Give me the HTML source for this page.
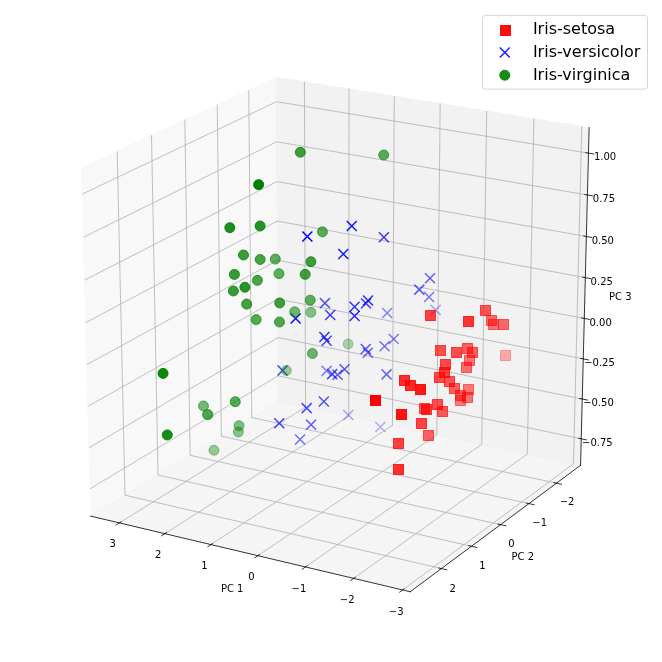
<!DOCTYPE html>
<html><head><meta charset="utf-8"><style>html,body{margin:0;padding:0;background:#fff;}svg{display:block;}</style></head><body>
<svg width="662" height="662" viewBox="0 0 662 662" version="1.1">
 <defs>
  <style type="text/css">*{stroke-linejoin: round; stroke-linecap: butt}</style>
 </defs>
 <g id="figure_1">
  <g id="patch_1">
   <path d="M 0 662 
L 662 662 
L 662 0 
L 0 0 
z
" style="fill: #ffffff"/>
  </g>
  <g id="patch_2">
   <path d="M 7.2 654.6 
L 655.2 654.6 
L 655.2 6.6 
L 7.2 6.6 
z
" style="fill: #ffffff"/>
  </g>
  <g id="pane3d_1">
   <g id="patch_3">
    <path d="M 278.394342 401.311174 
L 90.724351 516.131559 
L 81.515928 167.745645 
L 276.303589 77.177999 
" style="fill: #f2f2f2; opacity: 0.5; stroke: #f2f2f2; stroke-linejoin: miter"/>
   </g>
  </g>
  <g id="pane3d_2">
   <g id="patch_4">
    <path d="M 580.567625 465.309572 
L 278.394342 401.311174 
L 276.303589 77.177999 
L 589.13903 127.594009 
" style="fill: #e6e6e6; opacity: 0.5; stroke: #e6e6e6; stroke-linejoin: miter"/>
   </g>
  </g>
  <g id="pane3d_3">
   <g id="patch_5">
    <path d="M 580.567625 465.309572 
L 278.394342 401.311174 
L 90.724351 516.131559 
L 410.175387 591.744317 
" style="fill: #ececec; opacity: 0.5; stroke: #ececec; stroke-linejoin: miter"/>
   </g>
  </g>
  <g id="grid3d_1">
   <g id="Line3DCollection_1">
    <path d="M 402.649939 589.963074 
L 573.477045 463.807832 
L 581.786737 126.409126 
" style="fill: none; stroke: #b0b0b0; stroke-width: 0.8"/>
    <path d="M 353.658674 578.367041 
L 527.284065 454.024449 
L 533.90235 118.692162 
" style="fill: none; stroke: #b0b0b0; stroke-width: 0.8"/>
    <path d="M 305.39828 566.944002 
L 481.72464 444.37525 
L 486.697755 111.084753 
" style="fill: none; stroke: #b0b0b0; stroke-width: 0.8"/>
    <path d="M 257.852522 555.690116 
L 436.785825 434.857492 
L 440.158578 103.584581 
" style="fill: none; stroke: #b0b0b0; stroke-width: 0.8"/>
    <path d="M 211.005645 544.601651 
L 392.455025 425.468508 
L 394.270848 96.189395 
" style="fill: none; stroke: #b0b0b0; stroke-width: 0.8"/>
    <path d="M 164.842351 533.674987 
L 348.719982 416.205702 
L 349.02098 88.897006 
" style="fill: none; stroke: #b0b0b0; stroke-width: 0.8"/>
    <path d="M 119.347787 522.906609 
L 305.568768 407.066547 
L 304.395767 81.705285 
" style="fill: none; stroke: #b0b0b0; stroke-width: 0.8"/>
   </g>
  </g>
  <g id="grid3d_2">
   <g id="Line3DCollection_2">
    <path d="M 248.752988 89.987809 
L 251.78468 417.591516 
L 556.490881 483.175039 
" style="fill: none; stroke: #b0b0b0; stroke-width: 0.8"/>
    <path d="M 217.244811 104.637718 
L 221.379224 436.194203 
L 528.946133 503.613841 
" style="fill: none; stroke: #b0b0b0; stroke-width: 0.8"/>
    <path d="M 184.838922 119.705023 
L 190.137064 455.308804 
L 500.606086 524.642772 
" style="fill: none; stroke: #b0b0b0; stroke-width: 0.8"/>
    <path d="M 151.496401 135.20782 
L 158.023179 474.956743 
L 471.43579 546.287766 
" style="fill: none; stroke: #b0b0b0; stroke-width: 0.8"/>
    <path d="M 117.176045 151.165268 
L 125.000569 495.160659 
L 441.39822 568.576296 
" style="fill: none; stroke: #b0b0b0; stroke-width: 0.8"/>
   </g>
  </g>
  <g id="grid3d_3">
   <g id="Line3DCollection_3">
    <path d="M 581.24071 438.78987 
L 278.229919 375.820357 
L 90.002094 488.806131 
" style="fill: none; stroke: #b0b0b0; stroke-width: 0.8"/>
    <path d="M 582.250366 399.009158 
L 277.983355 337.59508 
L 88.918405 447.806521 
" style="fill: none; stroke: #b0b0b0; stroke-width: 0.8"/>
    <path d="M 583.268507 358.894121 
L 277.734813 299.063201 
L 87.825279 406.449851 
" style="fill: none; stroke: #b0b0b0; stroke-width: 0.8"/>
    <path d="M 584.295241 318.440527 
L 277.484269 260.221017 
L 86.722592 364.731438 
" style="fill: none; stroke: #b0b0b0; stroke-width: 0.8"/>
    <path d="M 585.330678 277.644072 
L 277.2317 221.064763 
L 85.610217 322.646514 
" style="fill: none; stroke: #b0b0b0; stroke-width: 0.8"/>
    <path d="M 586.374927 236.500377 
L 276.97708 181.590615 
L 84.488026 280.190229 
" style="fill: none; stroke: #b0b0b0; stroke-width: 0.8"/>
    <path d="M 587.428103 195.004992 
L 276.720385 141.794686 
L 83.355889 237.357644 
" style="fill: none; stroke: #b0b0b0; stroke-width: 0.8"/>
    <path d="M 588.490319 153.153387 
L 276.461589 101.673026 
L 82.213673 194.143735 
" style="fill: none; stroke: #b0b0b0; stroke-width: 0.8"/>
   </g>
  </g>
  <g id="axis3d_1">
   <g id="line2d_1">
    <path d="M 90.724351 516.131559 
L 410.175387 591.744317 
" style="fill: none; stroke: #000000; stroke-width: 0.8; stroke-linecap: square"/>
   </g>
   <g id="xtick_1">
    <g id="line2d_2">
     <path d="M 404.13718 588.864752 
L 399.669093 592.164419 
" style="fill: none; stroke: #000000; stroke-width: 0.8; stroke-linecap: square"/>
    </g>
    <g id="text_1">
     <text style="font-size: 10px; font-family: 'DejaVu Sans', 'Liberation Sans', sans-serif; text-anchor: middle" x="396.220" y="615.201" >−3</text>
    </g>
   </g>
   <g id="xtick_2">
    <g id="line2d_3">
     <path d="M 355.169356 577.285159 
L 350.630893 580.5354 
" style="fill: none; stroke: #000000; stroke-width: 0.8; stroke-linecap: square"/>
    </g>
    <g id="text_2">
     <text style="font-size: 10px; font-family: 'DejaVu Sans', 'Liberation Sans', sans-serif; text-anchor: middle" x="347.191" y="603.460" >−2</text>
    </g>
   </g>
   <g id="xtick_3">
    <g id="line2d_4">
     <path d="M 306.931541 565.878195 
L 302.325292 569.080111 
" style="fill: none; stroke: #000000; stroke-width: 0.8; stroke-linecap: square"/>
    </g>
    <g id="text_3">
     <text style="font-size: 10px; font-family: 'DejaVu Sans', 'Liberation Sans', sans-serif; text-anchor: middle" x="298.895" y="591.894" >−1</text>
    </g>
   </g>
   <g id="xtick_4">
    <g id="line2d_5">
     <path d="M 259.407532 554.640027 
L 254.735996 557.794688 
" style="fill: none; stroke: #000000; stroke-width: 0.8; stroke-linecap: square"/>
    </g>
    <g id="text_4">
     <text style="font-size: 10px; font-family: 'DejaVu Sans', 'Liberation Sans', sans-serif; text-anchor: middle" x="251.316" y="580.499" >0</text>
    </g>
   </g>
   <g id="xtick_5">
    <g id="line2d_6">
     <path d="M 212.5816 543.566935 
L 207.847188 546.67538 
" style="fill: none; stroke: #000000; stroke-width: 0.8; stroke-linecap: square"/>
    </g>
    <g id="text_5">
     <text style="font-size: 10px; font-family: 'DejaVu Sans', 'Liberation Sans', sans-serif; text-anchor: middle" x="204.437" y="569.272" >1</text>
    </g>
   </g>
   <g id="xtick_6">
    <g id="line2d_7">
     <path d="M 166.438478 532.65531 
L 161.643516 535.718547 
" style="fill: none; stroke: #000000; stroke-width: 0.8; stroke-linecap: square"/>
    </g>
    <g id="text_6">
     <text style="font-size: 10px; font-family: 'DejaVu Sans', 'Liberation Sans', sans-serif; text-anchor: middle" x="158.243" y="558.210" >2</text>
    </g>
   </g>
   <g id="xtick_7">
    <g id="line2d_8">
     <path d="M 120.963337 521.901645 
L 116.110071 524.920653 
" style="fill: none; stroke: #000000; stroke-width: 0.8; stroke-linecap: square"/>
    </g>
    <g id="text_7">
     <text style="font-size: 10px; font-family: 'DejaVu Sans', 'Liberation Sans', sans-serif; text-anchor: middle" x="112.720" y="547.307" >3</text>
    </g>
   </g>
   <g id="text_8">
    <text style="font-size: 10px; font-family: 'DejaVu Sans', 'Liberation Sans', sans-serif; text-anchor: middle" x="232.187" y="591.987" >PC 1</text>
   </g>
  </g>
  <g id="axis3d_2">
   <g id="line2d_9">
    <path d="M 580.567625 465.309572 
L 410.175387 591.744317 
" style="fill: none; stroke: #000000; stroke-width: 0.8; stroke-linecap: square"/>
   </g>
   <g id="xtick_8">
    <g id="line2d_10">
     <path d="M 553.93757 482.625476 
L 561.603374 484.275428 
" style="fill: none; stroke: #000000; stroke-width: 0.8; stroke-linecap: square"/>
    </g>
    <g id="text_9">
     <text style="font-size: 10px; font-family: 'DejaVu Sans', 'Liberation Sans', sans-serif; text-anchor: middle" x="567.118" y="505.351" >−2</text>
    </g>
   </g>
   <g id="xtick_9">
    <g id="line2d_11">
     <path d="M 526.367189 503.048528 
L 534.110034 504.745784 
" style="fill: none; stroke: #000000; stroke-width: 0.8; stroke-linecap: square"/>
    </g>
    <g id="text_10">
     <text style="font-size: 10px; font-family: 'DejaVu Sans', 'Liberation Sans', sans-serif; text-anchor: middle" x="539.712" y="525.993" >−1</text>
    </g>
   </g>
   <g id="xtick_10">
    <g id="line2d_12">
     <path d="M 498.001083 524.061023 
L 505.822253 525.807647 
" style="fill: none; stroke: #000000; stroke-width: 0.8; stroke-linecap: square"/>
    </g>
    <g id="text_11">
     <text style="font-size: 10px; font-family: 'DejaVu Sans', 'Liberation Sans', sans-serif; text-anchor: middle" x="511.515" y="547.230" >0</text>
    </g>
   </g>
   <g id="xtick_11">
    <g id="line2d_13">
     <path d="M 468.804296 545.688852 
L 476.705092 547.487031 
" style="fill: none; stroke: #000000; stroke-width: 0.8; stroke-linecap: square"/>
    </g>
    <g id="text_12">
     <text style="font-size: 10px; font-family: 'DejaVu Sans', 'Liberation Sans', sans-serif; text-anchor: middle" x="482.491" y="569.090" >1</text>
    </g>
   </g>
   <g id="xtick_12">
    <g id="line2d_14">
     <path d="M 438.7398 567.959447 
L 446.721534 569.811497 
" style="fill: none; stroke: #000000; stroke-width: 0.8; stroke-linecap: square"/>
    </g>
    <g id="text_13">
     <text style="font-size: 10px; font-family: 'DejaVu Sans', 'Liberation Sans', sans-serif; text-anchor: middle" x="452.603" y="591.601" >2</text>
    </g>
   </g>
   <g id="text_14">
    <text style="font-size: 10px; font-family: 'DejaVu Sans', 'Liberation Sans', sans-serif; text-anchor: middle" x="522.751" y="560.042" >PC 2</text>
   </g>
  </g>
  <g id="axis3d_3">
   <g id="line2d_15">
    <path d="M 580.567625 465.309572 
L 589.13903 127.594009 
" style="fill: none; stroke: #000000; stroke-width: 0.8; stroke-linecap: square"/>
   </g>
   <g id="xtick_13">
    <g id="line2d_16">
     <path d="M 578.702717 438.262443 
L 586.322472 439.845925 
" style="fill: none; stroke: #000000; stroke-width: 0.8; stroke-linecap: square"/>
    </g>
    <g id="text_15">
     <text style="font-size: 10px; font-family: 'DejaVu Sans', 'Liberation Sans', sans-serif; text-anchor: middle" x="597.379" y="445.745" >−0.75</text>
    </g>
   </g>
   <g id="xtick_14">
    <g id="line2d_17">
     <path d="M 579.701373 398.494662 
L 587.354178 400.039325 
" style="fill: none; stroke: #000000; stroke-width: 0.8; stroke-linecap: square"/>
    </g>
    <g id="text_16">
     <text style="font-size: 10px; font-family: 'DejaVu Sans', 'Liberation Sans', sans-serif; text-anchor: middle" x="598.455" y="406.005" >−0.50</text>
    </g>
   </g>
   <g id="xtick_15">
    <g id="line2d_18">
     <path d="M 580.708418 358.392794 
L 588.394562 359.897927 
" style="fill: none; stroke: #000000; stroke-width: 0.8; stroke-linecap: square"/>
    </g>
    <g id="text_17">
     <text style="font-size: 10px; font-family: 'DejaVu Sans', 'Liberation Sans', sans-serif; text-anchor: middle" x="599.540" y="365.931" >−0.25</text>
    </g>
   </g>
   <g id="xtick_16">
    <g id="line2d_19">
     <path d="M 581.723959 317.952609 
L 589.443733 319.417489 
" style="fill: none; stroke: #000000; stroke-width: 0.8; stroke-linecap: square"/>
    </g>
    <g id="text_18">
     <text style="font-size: 10px; font-family: 'DejaVu Sans', 'Liberation Sans', sans-serif; text-anchor: middle" x="600.634" y="325.519" >0.00</text>
    </g>
   </g>
   <g id="xtick_17">
    <g id="line2d_20">
     <path d="M 582.748104 277.169808 
L 590.501802 278.593697 
" style="fill: none; stroke: #000000; stroke-width: 0.8; stroke-linecap: square"/>
    </g>
    <g id="text_19">
     <text style="font-size: 10px; font-family: 'DejaVu Sans', 'Liberation Sans', sans-serif; text-anchor: middle" x="601.738" y="284.765" >0.25</text>
    </g>
   </g>
   <g id="xtick_18">
    <g id="line2d_21">
     <path d="M 583.780963 236.040019 
L 591.568885 237.422165 
" style="fill: none; stroke: #000000; stroke-width: 0.8; stroke-linecap: square"/>
    </g>
    <g id="text_20">
     <text style="font-size: 10px; font-family: 'DejaVu Sans', 'Liberation Sans', sans-serif; text-anchor: middle" x="602.851" y="243.665" >0.50</text>
    </g>
   </g>
   <g id="xtick_19">
    <g id="line2d_22">
     <path d="M 584.822647 194.558794 
L 592.645096 195.898429 
" style="fill: none; stroke: #000000; stroke-width: 0.8; stroke-linecap: square"/>
    </g>
    <g id="text_21">
     <text style="font-size: 10px; font-family: 'DejaVu Sans', 'Liberation Sans', sans-serif; text-anchor: middle" x="603.973" y="202.213" >0.75</text>
    </g>
   </g>
   <g id="xtick_20">
    <g id="line2d_23">
     <path d="M 585.87327 152.721611 
L 593.730553 154.017952 
" style="fill: none; stroke: #000000; stroke-width: 0.8; stroke-linecap: square"/>
    </g>
    <g id="text_22">
     <text style="font-size: 10px; font-family: 'DejaVu Sans', 'Liberation Sans', sans-serif; text-anchor: middle" x="605.105" y="160.407" >1.00</text>
    </g>
   </g>
   <g id="text_23">
    <text style="font-size: 10px; font-family: 'DejaVu Sans', 'Liberation Sans', sans-serif; text-anchor: middle" x="620.317" y="299.909" >PC 3</text>
   </g>
  </g>
  <g id="axes_1">
   <g id="Path3DCollection_1">
    <path d="M 375.357179 432.07388 
L 385.357179 422.07388 
M 375.357179 422.07388 
L 385.357179 432.07388 
" clip-path="url(#p577230654b)" style="fill: #0000ff; fill-opacity: 0.3; stroke: #0000ff; stroke-opacity: 0.3; stroke-width: 1.5"/>
    <path d="M 343.301746 420.006886 
L 353.301746 410.006886 
M 343.301746 410.006886 
L 353.301746 420.006886 
" clip-path="url(#p577230654b)" style="fill: #0000ff; fill-opacity: 0.341752; stroke: #0000ff; stroke-opacity: 0.341752; stroke-width: 1.5"/>
    <path d="M 430.691351 314.934995 
L 440.691351 304.934995 
M 430.691351 304.934995 
L 440.691351 314.934995 
" clip-path="url(#p577230654b)" style="fill: #0000ff; fill-opacity: 0.353983; stroke: #0000ff; stroke-opacity: 0.353983; stroke-width: 1.5"/>
    <path d="M 321.604627 375.848724 
L 331.604627 365.848724 
M 321.604627 365.848724 
L 331.604627 375.848724 
" clip-path="url(#p577230654b)" style="fill: #0000ff; fill-opacity: 0.47393; stroke: #0000ff; stroke-opacity: 0.47393; stroke-width: 1.5"/>
    <path d="M 382.138927 317.92748 
L 392.138927 307.92748 
M 382.138927 307.92748 
L 392.138927 317.92748 
" clip-path="url(#p577230654b)" style="fill: #0000ff; fill-opacity: 0.47603; stroke: #0000ff; stroke-opacity: 0.47603; stroke-width: 1.5"/>
    <path d="M 388.724749 344.042554 
L 398.724749 334.042554 
M 388.724749 334.042554 
L 398.724749 344.042554 
" clip-path="url(#p577230654b)" style="fill: #0000ff; fill-opacity: 0.509518; stroke: #0000ff; stroke-opacity: 0.509518; stroke-width: 1.5"/>
    <path d="M 424.041372 302.066816 
L 434.041372 292.066816 
M 424.041372 292.066816 
L 434.041372 302.066816 
" clip-path="url(#p577230654b)" style="fill: #0000ff; fill-opacity: 0.527633; stroke: #0000ff; stroke-opacity: 0.527633; stroke-width: 1.5"/>
    <path d="M 379.625817 351.305828 
L 389.625817 341.305828 
M 379.625817 341.305828 
L 389.625817 351.305828 
" clip-path="url(#p577230654b)" style="fill: #0000ff; fill-opacity: 0.549279; stroke: #0000ff; stroke-opacity: 0.549279; stroke-width: 1.5"/>
    <path d="M 295.088296 444.432333 
L 305.088296 434.432333 
M 295.088296 434.432333 
L 305.088296 444.432333 
" clip-path="url(#p577230654b)" style="fill: #0000ff; fill-opacity: 0.553044; stroke: #0000ff; stroke-opacity: 0.553044; stroke-width: 1.5"/>
    <path d="M 381.561326 379.400435 
L 391.561326 369.400435 
M 381.561326 369.400435 
L 391.561326 379.400435 
" clip-path="url(#p577230654b)" style="fill: #0000ff; fill-opacity: 0.583409; stroke: #0000ff; stroke-opacity: 0.583409; stroke-width: 1.5"/>
    <path d="M 362.769629 357.805328 
L 372.769629 347.805328 
M 362.769629 347.805328 
L 372.769629 357.805328 
" clip-path="url(#p577230654b)" style="fill: #0000ff; fill-opacity: 0.586448; stroke: #0000ff; stroke-opacity: 0.586448; stroke-width: 1.5"/>
    <path d="M 425.012233 283.183846 
L 435.012233 273.183846 
M 425.012233 273.183846 
L 435.012233 283.183846 
" clip-path="url(#p577230654b)" style="fill: #0000ff; fill-opacity: 0.601946; stroke: #0000ff; stroke-opacity: 0.601946; stroke-width: 1.5"/>
    <path d="M 306.091066 429.698267 
L 316.091066 419.698267 
M 306.091066 419.698267 
L 316.091066 429.698267 
" clip-path="url(#p577230654b)" style="fill: #0000ff; fill-opacity: 0.633602; stroke: #0000ff; stroke-opacity: 0.633602; stroke-width: 1.5"/>
    <path d="M 332.531133 379.716599 
L 342.531133 369.716599 
M 332.531133 369.716599 
L 342.531133 379.716599 
" clip-path="url(#p577230654b)" style="fill: #0000ff; fill-opacity: 0.642649; stroke: #0000ff; stroke-opacity: 0.642649; stroke-width: 1.5"/>
    <path d="M 414.304274 294.638875 
L 424.304274 284.638875 
M 414.304274 284.638875 
L 424.304274 294.638875 
" clip-path="url(#p577230654b)" style="fill: #0000ff; fill-opacity: 0.645663; stroke: #0000ff; stroke-opacity: 0.645663; stroke-width: 1.5"/>
    <path d="M 360.746002 354.09291 
L 370.746002 344.09291 
M 360.746002 344.09291 
L 370.746002 354.09291 
" clip-path="url(#p577230654b)" style="fill: #0000ff; fill-opacity: 0.646358; stroke: #0000ff; stroke-opacity: 0.646358; stroke-width: 1.5"/>
    <path d="M 319.946478 308.120451 
L 329.946478 298.120451 
M 319.946478 298.120451 
L 329.946478 308.120451 
" clip-path="url(#p577230654b)" style="fill: #0000ff; fill-opacity: 0.649357; stroke: #0000ff; stroke-opacity: 0.649357; stroke-width: 1.5"/>
    <path d="M 339.553961 374.304596 
L 349.553961 364.304596 
M 339.553961 364.304596 
L 349.553961 374.304596 
" clip-path="url(#p577230654b)" style="fill: #0000ff; fill-opacity: 0.66739; stroke: #0000ff; stroke-opacity: 0.66739; stroke-width: 1.5"/>
    <path d="M 318.873023 406.431544 
L 328.873023 396.431544 
M 318.873023 396.431544 
L 328.873023 406.431544 
" clip-path="url(#p577230654b)" style="fill: #0000ff; fill-opacity: 0.671525; stroke: #0000ff; stroke-opacity: 0.671525; stroke-width: 1.5"/>
    <path d="M 360.995885 308.348537 
L 370.995885 298.348537 
M 360.995885 298.348537 
L 370.995885 308.348537 
" clip-path="url(#p577230654b)" style="fill: #0000ff; fill-opacity: 0.688724; stroke: #0000ff; stroke-opacity: 0.688724; stroke-width: 1.5"/>
    <path d="M 327.164796 379.15112 
L 337.164796 369.15112 
M 327.164796 369.15112 
L 337.164796 379.15112 
" clip-path="url(#p577230654b)" style="fill: #0000ff; fill-opacity: 0.704916; stroke: #0000ff; stroke-opacity: 0.704916; stroke-width: 1.5"/>
    <path d="M 301.699865 413.139995 
L 311.699865 403.139995 
M 301.699865 403.139995 
L 311.699865 413.139995 
" clip-path="url(#p577230654b)" style="fill: #0000ff; fill-opacity: 0.70936; stroke: #0000ff; stroke-opacity: 0.70936; stroke-width: 1.5"/>
    <path d="M 274.254656 428.323664 
L 284.254656 418.323664 
M 274.254656 418.323664 
L 284.254656 428.323664 
" clip-path="url(#p577230654b)" style="fill: #0000ff; fill-opacity: 0.724246; stroke: #0000ff; stroke-opacity: 0.724246; stroke-width: 1.5"/>
    <path d="M 277.545881 375.557454 
L 287.545881 365.557454 
M 277.545881 365.557454 
L 287.545881 375.557454 
" clip-path="url(#p577230654b)" style="fill: #0000ff; fill-opacity: 0.724762; stroke: #0000ff; stroke-opacity: 0.724762; stroke-width: 1.5"/>
    <path d="M 321.626478 345.750209 
L 331.626478 335.750209 
M 321.626478 335.750209 
L 331.626478 345.750209 
" clip-path="url(#p577230654b)" style="fill: #0000ff; fill-opacity: 0.729239; stroke: #0000ff; stroke-opacity: 0.729239; stroke-width: 1.5"/>
    <path d="M 325.217641 319.98671 
L 335.217641 309.98671 
M 325.217641 309.98671 
L 335.217641 319.98671 
" clip-path="url(#p577230654b)" style="fill: #0000ff; fill-opacity: 0.763198; stroke: #0000ff; stroke-opacity: 0.763198; stroke-width: 1.5"/>
    <path d="M 378.871083 242.282101 
L 388.871083 232.282101 
M 378.871083 232.282101 
L 388.871083 242.282101 
" clip-path="url(#p577230654b)" style="fill: #0000ff; fill-opacity: 0.774599; stroke: #0000ff; stroke-opacity: 0.774599; stroke-width: 1.5"/>
    <path d="M 319.400513 341.945951 
L 329.400513 331.945951 
M 319.400513 331.945951 
L 329.400513 341.945951 
" clip-path="url(#p577230654b)" style="fill: #0000ff; fill-opacity: 0.790403; stroke: #0000ff; stroke-opacity: 0.790403; stroke-width: 1.5"/>
    <path d="M 349.60199 311.664986 
L 359.60199 301.664986 
M 349.60199 301.664986 
L 359.60199 311.664986 
" clip-path="url(#p577230654b)" style="fill: #0000ff; fill-opacity: 0.790703; stroke: #0000ff; stroke-opacity: 0.790703; stroke-width: 1.5"/>
    <path d="M 363.026504 305.583429 
L 373.026504 295.583429 
M 363.026504 295.583429 
L 373.026504 305.583429 
" clip-path="url(#p577230654b)" style="fill: #0000ff; fill-opacity: 0.817293; stroke: #0000ff; stroke-opacity: 0.817293; stroke-width: 1.5"/>
    <path d="M 349.572854 321.094613 
L 359.572854 311.094613 
M 349.572854 311.094613 
L 359.572854 321.094613 
" clip-path="url(#p577230654b)" style="fill: #0000ff; fill-opacity: 0.836656; stroke: #0000ff; stroke-opacity: 0.836656; stroke-width: 1.5"/>
    <path d="M 338.289332 259.01706 
L 348.289332 249.01706 
M 338.289332 249.01706 
L 348.289332 259.01706 
" clip-path="url(#p577230654b)" style="fill: #0000ff; fill-opacity: 0.891479; stroke: #0000ff; stroke-opacity: 0.891479; stroke-width: 1.5"/>
    <path d="M 346.760946 230.940027 
L 356.760946 220.940027 
M 346.760946 220.940027 
L 356.760946 230.940027 
" clip-path="url(#p577230654b)" style="fill: #0000ff; fill-opacity: 0.925942; stroke: #0000ff; stroke-opacity: 0.925942; stroke-width: 1.5"/>
    <path d="M 290.609556 323.431561 
L 300.609556 313.431561 
M 290.609556 313.431561 
L 300.609556 323.431561 
" clip-path="url(#p577230654b)" style="fill: #0000ff; fill-opacity: 0.96464; stroke: #0000ff; stroke-opacity: 0.96464; stroke-width: 1.5"/>
    <path d="M 302.365239 241.549338 
L 312.365239 231.549338 
M 302.365239 231.549338 
L 312.365239 241.549338 
" clip-path="url(#p577230654b)" style="fill: #0000ff; stroke: #0000ff; stroke-width: 1.5"/>
   </g>
   <g id="Path3DCollection_2">
    
    <g clip-path="url(#p577230654b)">
     <circle cx="348.16" cy="344.06" r="5" style="fill: #008000; fill-opacity: 0.3; stroke: #008000; stroke-opacity: 0.3"/>
    </g>
    <g clip-path="url(#p577230654b)">
     <circle cx="208.34" cy="414.51" r="5" style="fill: #008000; fill-opacity: 0.327865; stroke: #008000; stroke-opacity: 0.327865"/>
    </g>
    <g clip-path="url(#p577230654b)">
     <circle cx="286.3" cy="370.44" r="5" style="fill: #008000; fill-opacity: 0.376025; stroke: #008000; stroke-opacity: 0.376025"/>
    </g>
    <g clip-path="url(#p577230654b)">
     <circle cx="213.96" cy="450.29" r="5" style="fill: #008000; fill-opacity: 0.396199; stroke: #008000; stroke-opacity: 0.396199"/>
    </g>
    <g clip-path="url(#p577230654b)">
     <circle cx="238.4" cy="432.05" r="5" style="fill: #008000; fill-opacity: 0.4358; stroke: #008000; stroke-opacity: 0.4358"/>
    </g>
    <g clip-path="url(#p577230654b)">
     <circle cx="310.85" cy="312.34" r="5" style="fill: #008000; fill-opacity: 0.456785; stroke: #008000; stroke-opacity: 0.456785"/>
    </g>
    <g clip-path="url(#p577230654b)">
     <circle cx="239.01" cy="425.67" r="5" style="fill: #008000; fill-opacity: 0.48701; stroke: #008000; stroke-opacity: 0.48701"/>
    </g>
    <g clip-path="url(#p577230654b)">
     <circle cx="207.38" cy="414.65" r="5" style="fill: #008000; fill-opacity: 0.527137; stroke: #008000; stroke-opacity: 0.527137"/>
    </g>
    <g clip-path="url(#p577230654b)">
     <circle cx="294.67" cy="311.85" r="5" style="fill: #008000; fill-opacity: 0.541526; stroke: #008000; stroke-opacity: 0.541526"/>
    </g>
    <g clip-path="url(#p577230654b)">
     <circle cx="203.47" cy="405.92" r="5" style="fill: #008000; fill-opacity: 0.543782; stroke: #008000; stroke-opacity: 0.543782"/>
    </g>
    <g clip-path="url(#p577230654b)">
     <circle cx="312.43" cy="353.51" r="5" style="fill: #008000; fill-opacity: 0.562333; stroke: #008000; stroke-opacity: 0.562333"/>
    </g>
    <g clip-path="url(#p577230654b)">
     <circle cx="278.97" cy="273.69" r="5" style="fill: #008000; fill-opacity: 0.614369; stroke: #008000; stroke-opacity: 0.614369"/>
    </g>
    <g clip-path="url(#p577230654b)">
     <circle cx="310.24" cy="300.14" r="5" style="fill: #008000; fill-opacity: 0.618405; stroke: #008000; stroke-opacity: 0.618405"/>
    </g>
    <g clip-path="url(#p577230654b)">
     <circle cx="275.31" cy="259.08" r="5" style="fill: #008000; fill-opacity: 0.626755; stroke: #008000; stroke-opacity: 0.626755"/>
    </g>
    <g clip-path="url(#p577230654b)">
     <circle cx="322.4" cy="231.82" r="5" style="fill: #008000; fill-opacity: 0.633576; stroke: #008000; stroke-opacity: 0.633576"/>
    </g>
    <g clip-path="url(#p577230654b)">
     <circle cx="383.68" cy="155.04" r="5" style="fill: #008000; fill-opacity: 0.646276; stroke: #008000; stroke-opacity: 0.646276"/>
    </g>
    <g clip-path="url(#p577230654b)">
     <circle cx="256.16" cy="319.6" r="5" style="fill: #008000; fill-opacity: 0.661716; stroke: #008000; stroke-opacity: 0.661716"/>
    </g>
    <g clip-path="url(#p577230654b)">
     <circle cx="235.25" cy="401.74" r="5" style="fill: #008000; fill-opacity: 0.663313; stroke: #008000; stroke-opacity: 0.663313"/>
    </g>
    <g clip-path="url(#p577230654b)">
     <circle cx="279.5" cy="322.03" r="5" style="fill: #008000; fill-opacity: 0.669473; stroke: #008000; stroke-opacity: 0.669473"/>
    </g>
    <g clip-path="url(#p577230654b)">
     <circle cx="257.4" cy="280.35" r="5" style="fill: #008000; fill-opacity: 0.706127; stroke: #008000; stroke-opacity: 0.706127"/>
    </g>
    <g clip-path="url(#p577230654b)">
     <circle cx="260.17" cy="259.5" r="5" style="fill: #008000; fill-opacity: 0.715312; stroke: #008000; stroke-opacity: 0.715312"/>
    </g>
    <g clip-path="url(#p577230654b)">
     <circle cx="246.66" cy="304.1" r="5" style="fill: #008000; fill-opacity: 0.730826; stroke: #008000; stroke-opacity: 0.730826"/>
    </g>
    <g clip-path="url(#p577230654b)">
     <circle cx="279.66" cy="302.96" r="5" style="fill: #008000; fill-opacity: 0.738149; stroke: #008000; stroke-opacity: 0.738149"/>
    </g>
    <g clip-path="url(#p577230654b)">
     <circle cx="305.2" cy="274.35" r="5" style="fill: #008000; fill-opacity: 0.738679; stroke: #008000; stroke-opacity: 0.738679"/>
    </g>
    <g clip-path="url(#p577230654b)">
     <circle cx="300.34" cy="152.27" r="5" style="fill: #008000; fill-opacity: 0.749634; stroke: #008000; stroke-opacity: 0.749634"/>
    </g>
    <g clip-path="url(#p577230654b)">
     <circle cx="310.91" cy="261.7" r="5" style="fill: #008000; fill-opacity: 0.75538; stroke: #008000; stroke-opacity: 0.75538"/>
    </g>
    <g clip-path="url(#p577230654b)">
     <circle cx="243.49" cy="255" r="5" style="fill: #008000; fill-opacity: 0.766796; stroke: #008000; stroke-opacity: 0.766796"/>
    </g>
    <g clip-path="url(#p577230654b)">
     <circle cx="233.36" cy="290.98" r="5" style="fill: #008000; fill-opacity: 0.776123; stroke: #008000; stroke-opacity: 0.776123"/>
    </g>
    <g clip-path="url(#p577230654b)">
     <circle cx="234.39" cy="274.41" r="5" style="fill: #008000; fill-opacity: 0.788573; stroke: #008000; stroke-opacity: 0.788573"/>
    </g>
    <g clip-path="url(#p577230654b)">
     <circle cx="244.91" cy="287.24" r="5" style="fill: #008000; fill-opacity: 0.835813; stroke: #008000; stroke-opacity: 0.835813"/>
    </g>
    <g clip-path="url(#p577230654b)">
     <circle cx="260.09" cy="226.01" r="5" style="fill: #008000; fill-opacity: 0.859115; stroke: #008000; stroke-opacity: 0.859115"/>
    </g>
    <g clip-path="url(#p577230654b)">
     <circle cx="229.82" cy="227.65" r="5" style="fill: #008000; fill-opacity: 0.887306; stroke: #008000; stroke-opacity: 0.887306"/>
    </g>
    <g clip-path="url(#p577230654b)">
     <circle cx="167.29" cy="434.97" r="5" style="fill: #008000; fill-opacity: 0.900665; stroke: #008000; stroke-opacity: 0.900665"/>
    </g>
    <g clip-path="url(#p577230654b)">
     <circle cx="163.05" cy="373.38" r="5" style="fill: #008000; fill-opacity: 0.95364; stroke: #008000; stroke-opacity: 0.95364"/>
    </g>
    <g clip-path="url(#p577230654b)">
     <circle cx="258.64" cy="184.66" r="5" style="fill: #008000; stroke: #008000"/>
    </g>
   </g>
   <g id="Path3DCollection_3">
    
    <g clip-path="url(#p577230654b)">
     <rect x="500.5" y="350.5" width="10" height="10" style="fill: #ff0000; fill-opacity: 0.3; stroke: #ff0000; stroke-opacity: 0.3;stroke-linejoin: miter"/>
    </g>
    <g clip-path="url(#p577230654b)">
     <rect x="455.5" y="395.5" width="10" height="10" style="fill: #ff0000; fill-opacity: 0.496234; stroke: #ff0000; stroke-opacity: 0.496234;stroke-linejoin: miter"/>
    </g>
    <g clip-path="url(#p577230654b)">
     <rect x="463.5" y="384.5" width="10" height="10" style="fill: #ff0000; fill-opacity: 0.509073; stroke: #ff0000; stroke-opacity: 0.509073;stroke-linejoin: miter"/>
    </g>
    <g clip-path="url(#p577230654b)">
     <rect x="488.5" y="319.5" width="10" height="10" style="fill: #ff0000; fill-opacity: 0.524985; stroke: #ff0000; stroke-opacity: 0.524985;stroke-linejoin: miter"/>
    </g>
    <g clip-path="url(#p577230654b)">
     <rect x="464.5" y="355.5" width="10" height="10" style="fill: #ff0000; fill-opacity: 0.528892; stroke: #ff0000; stroke-opacity: 0.528892;stroke-linejoin: miter"/>
    </g>
    <g clip-path="url(#p577230654b)">
     <rect x="462.5" y="392.5" width="10" height="10" style="fill: #ff0000; fill-opacity: 0.53738; stroke: #ff0000; stroke-opacity: 0.53738;stroke-linejoin: miter"/>
    </g>
    <g clip-path="url(#p577230654b)">
     <rect x="461.5" y="362.5" width="10" height="10" style="fill: #ff0000; fill-opacity: 0.556294; stroke: #ff0000; stroke-opacity: 0.556294;stroke-linejoin: miter"/>
    </g>
    <g clip-path="url(#p577230654b)">
     <rect x="486.5" y="315.5" width="10" height="10" style="fill: #ff0000; fill-opacity: 0.564519; stroke: #ff0000; stroke-opacity: 0.564519;stroke-linejoin: miter"/>
    </g>
    <g clip-path="url(#p577230654b)">
     <rect x="498.5" y="319.5" width="10" height="10" style="fill: #ff0000; fill-opacity: 0.568468; stroke: #ff0000; stroke-opacity: 0.568468;stroke-linejoin: miter"/>
    </g>
    <g clip-path="url(#p577230654b)">
     <rect x="455.5" y="390.5" width="10" height="10" style="fill: #ff0000; fill-opacity: 0.577213; stroke: #ff0000; stroke-opacity: 0.577213;stroke-linejoin: miter"/>
    </g>
    <g clip-path="url(#p577230654b)">
     <rect x="423.5" y="430.5" width="10" height="10" style="fill: #ff0000; fill-opacity: 0.605762; stroke: #ff0000; stroke-opacity: 0.605762;stroke-linejoin: miter"/>
    </g>
    <g clip-path="url(#p577230654b)">
     <rect x="462.5" y="343.5" width="10" height="10" style="fill: #ff0000; fill-opacity: 0.606109; stroke: #ff0000; stroke-opacity: 0.606109;stroke-linejoin: miter"/>
    </g>
    <g clip-path="url(#p577230654b)">
     <rect x="467.5" y="347.5" width="10" height="10" style="fill: #ff0000; fill-opacity: 0.60924; stroke: #ff0000; stroke-opacity: 0.60924;stroke-linejoin: miter"/>
    </g>
    <g clip-path="url(#p577230654b)">
     <rect x="449.5" y="383.5" width="10" height="10" style="fill: #ff0000; fill-opacity: 0.614078; stroke: #ff0000; stroke-opacity: 0.614078;stroke-linejoin: miter"/>
    </g>
    <g clip-path="url(#p577230654b)">
     <rect x="419.5" y="403.5" width="10" height="10" style="fill: #ff0000; fill-opacity: 0.626207; stroke: #ff0000; stroke-opacity: 0.626207;stroke-linejoin: miter"/>
    </g>
    <g clip-path="url(#p577230654b)">
     <rect x="437.5" y="406.5" width="10" height="10" style="fill: #ff0000; fill-opacity: 0.631071; stroke: #ff0000; stroke-opacity: 0.631071;stroke-linejoin: miter"/>
    </g>
    <g clip-path="url(#p577230654b)">
     <rect x="480.5" y="305.5" width="10" height="10" style="fill: #ff0000; fill-opacity: 0.64255; stroke: #ff0000; stroke-opacity: 0.64255;stroke-linejoin: miter"/>
    </g>
    <g clip-path="url(#p577230654b)">
     <rect x="444.5" y="376.5" width="10" height="10" style="fill: #ff0000; fill-opacity: 0.652304; stroke: #ff0000; stroke-opacity: 0.652304;stroke-linejoin: miter"/>
    </g>
    <g clip-path="url(#p577230654b)">
     <rect x="432.5" y="399.5" width="10" height="10" style="fill: #ff0000; fill-opacity: 0.669442; stroke: #ff0000; stroke-opacity: 0.669442;stroke-linejoin: miter"/>
    </g>
    <g clip-path="url(#p577230654b)">
     <rect x="435.5" y="345.5" width="10" height="10" style="fill: #ff0000; fill-opacity: 0.669787; stroke: #ff0000; stroke-opacity: 0.669787;stroke-linejoin: miter"/>
    </g>
    <g clip-path="url(#p577230654b)">
     <rect x="451.5" y="347.5" width="10" height="10" style="fill: #ff0000; fill-opacity: 0.673638; stroke: #ff0000; stroke-opacity: 0.673638;stroke-linejoin: miter"/>
    </g>
    <g clip-path="url(#p577230654b)">
     <rect x="434.5" y="372.5" width="10" height="10" style="fill: #ff0000; fill-opacity: 0.69105; stroke: #ff0000; stroke-opacity: 0.69105;stroke-linejoin: miter"/>
    </g>
    <g clip-path="url(#p577230654b)">
     <rect x="440.5" y="359.5" width="10" height="10" style="fill: #ff0000; fill-opacity: 0.703396; stroke: #ff0000; stroke-opacity: 0.703396;stroke-linejoin: miter"/>
    </g>
    <g clip-path="url(#p577230654b)">
     <rect x="416.5" y="418.5" width="10" height="10" style="fill: #ff0000; fill-opacity: 0.726566; stroke: #ff0000; stroke-opacity: 0.726566;stroke-linejoin: miter"/>
    </g>
    <g clip-path="url(#p577230654b)">
     <rect x="425.5" y="310.5" width="10" height="10" style="fill: #ff0000; fill-opacity: 0.728337; stroke: #ff0000; stroke-opacity: 0.728337;stroke-linejoin: miter"/>
    </g>
    <g clip-path="url(#p577230654b)">
     <rect x="439.5" y="367.5" width="10" height="10" style="fill: #ff0000; fill-opacity: 0.732962; stroke: #ff0000; stroke-opacity: 0.732962;stroke-linejoin: miter"/>
    </g>
    <g clip-path="url(#p577230654b)">
     <rect x="421.5" y="404.5" width="10" height="10" style="fill: #ff0000; fill-opacity: 0.737934; stroke: #ff0000; stroke-opacity: 0.737934;stroke-linejoin: miter"/>
    </g>
    <g clip-path="url(#p577230654b)">
     <rect x="393.5" y="438.5" width="10" height="10" style="fill: #ff0000; fill-opacity: 0.739882; stroke: #ff0000; stroke-opacity: 0.739882;stroke-linejoin: miter"/>
    </g>
    <g clip-path="url(#p577230654b)">
     <rect x="463.5" y="316.5" width="10" height="10" style="fill: #ff0000; fill-opacity: 0.78301; stroke: #ff0000; stroke-opacity: 0.78301;stroke-linejoin: miter"/>
    </g>
    <g clip-path="url(#p577230654b)">
     <rect x="393.5" y="464.5" width="10" height="10" style="fill: #ff0000; fill-opacity: 0.805335; stroke: #ff0000; stroke-opacity: 0.805335;stroke-linejoin: miter"/>
    </g>
    <g clip-path="url(#p577230654b)">
     <rect x="399.5" y="375.5" width="10" height="10" style="fill: #ff0000; fill-opacity: 0.824473; stroke: #ff0000; stroke-opacity: 0.824473;stroke-linejoin: miter"/>
    </g>
    <g clip-path="url(#p577230654b)">
     <rect x="405.5" y="380.5" width="10" height="10" style="fill: #ff0000; fill-opacity: 0.828855; stroke: #ff0000; stroke-opacity: 0.828855;stroke-linejoin: miter"/>
    </g>
    <g clip-path="url(#p577230654b)">
     <rect x="415.5" y="384.5" width="10" height="10" style="fill: #ff0000; fill-opacity: 0.903651; stroke: #ff0000; stroke-opacity: 0.903651;stroke-linejoin: miter"/>
    </g>
    <g clip-path="url(#p577230654b)">
     <rect x="396.5" y="409.5" width="10" height="10" style="fill: #ff0000; fill-opacity: 0.920846; stroke: #ff0000; stroke-opacity: 0.920846;stroke-linejoin: miter"/>
    </g>
    <g clip-path="url(#p577230654b)">
     <rect x="370.5" y="395.5" width="10" height="10" style="fill: #ff0000; stroke: #ff0000;stroke-linejoin: miter"/>
    </g>
   </g>
   <g id="legend_1">
    <g id="patch_6">
     <path d="M 485.5975 89.147 
L 644.3 89.147 
Q 647.5 89.147 647.5 85.947 
L 647.5 18.5 
Q 647.5 15.3 644.3 15.3 
L 485.5975 15.3 
Q 482.3975 15.3 482.3975 18.5 
L 482.3975 85.947 
Q 482.3975 89.147 485.5975 89.147 
z
" style="fill: #ffffff; opacity: 0.8; stroke: #cccccc; stroke-linejoin: miter"/>
    </g>
    <g id="PathCollection_1">
     
     <g>
      <rect x="500.5" y="25.5" width="10" height="10" style="stroke: #ff0000; stroke-opacity: 0.95;fill: #ff0000; fill-opacity: 0.95; stroke: #ff0000; stroke-opacity: 0.95;stroke-linejoin: miter"/>
     </g>
    </g>
    <g id="text_24">
     <text style="font-size: 16px; font-family: 'DejaVu Sans', 'Liberation Sans', sans-serif; text-anchor: start" x="532.897" y="34.258" >Iris-setosa</text>
    </g>
    <g id="PathCollection_2">
     
     <g>
      <path d="M 499.8 57.44 L 509.8 47.44 M 499.8 47.44 L 509.8 57.44" style="stroke: #0000ff; stroke-opacity: 0.88; stroke-width: 1.5;fill: #0000ff; fill-opacity: 0.88; stroke: #0000ff; stroke-opacity: 0.88; stroke-width: 1.5"/>
     </g>
    </g>
    <g id="text_25">
     <text style="font-size: 16px; font-family: 'DejaVu Sans', 'Liberation Sans', sans-serif; text-anchor: start" x="532.897" y="57.038" >Iris-versicolor</text>
    </g>
    <g id="PathCollection_3">
     
     <g>
      <circle cx="504.8" cy="75.22" r="5" style="stroke: #008000; stroke-opacity: 0.9;fill: #008000; fill-opacity: 0.9; stroke: #008000; stroke-opacity: 0.9"/>
     </g>
    </g>
    <g id="text_26">
     <text style="font-size: 16px; font-family: 'DejaVu Sans', 'Liberation Sans', sans-serif; text-anchor: start" x="532.897" y="79.820" >Iris-virginica</text>
    </g>
   </g>
  </g>
 </g>
 <defs>
  <clipPath id="p577230654b">
   <rect x="7.2" y="6.6" width="648" height="648"/>
  </clipPath>
 </defs>
</svg>
</body></html>
